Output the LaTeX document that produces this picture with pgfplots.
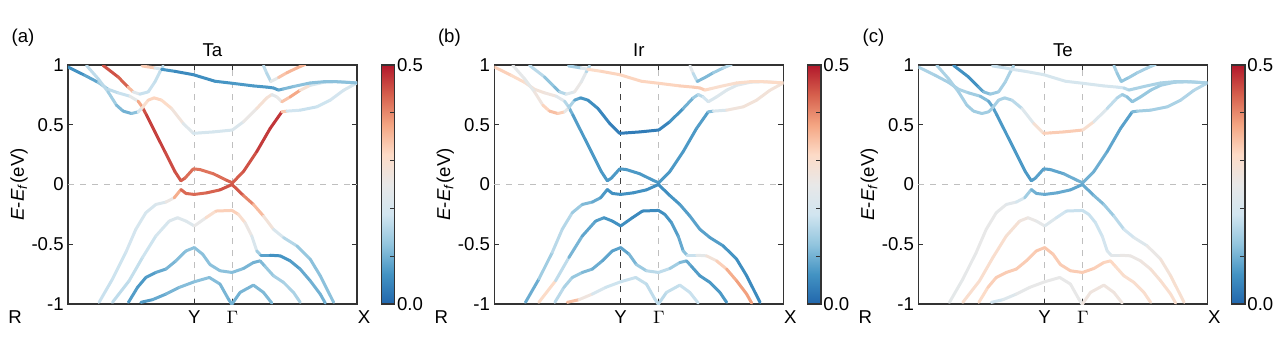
\documentclass[border=0pt]{standalone}
\usepackage{fontspec}
\setmainfont{Liberation Sans}
\usepackage{pgfplots}
\usepackage{pgfplotstable}
\pgfplotsset{compat=1.18}
\newcommand{\tickfont}{\fontsize{9.3pt}{11pt}\selectfont}

% columns: k (path coordinate, R=205 Y=583 Gamma=697 X=1070), E (eV), weights Ta Ir Te
\pgfplotstableread{
k E ta ir te
205 0.983 0.05 0.33 0.15
255 0.914 0.07 0.32 0.15
295 0.855 0.10 0.30 0.14
325 0.797 0.16 0.28 0.15
355 0.767 0.18 0.28 0.15
390 0.739 0.18 0.26 0.13
415 0.697 0.30 0.20 0.10
427 0.650 0.44 0.12 0.08
440 0.581 0.46 0.08 0.07
465 0.442 0.47 0.07 0.07
495 0.275 0.46 0.07 0.07
525 0.108 0.45 0.07 0.07
543 0.031 0.45 0.07 0.07
555 0.053 0.43 0.07 0.08
580 0.131 0.42 0.07 0.08
600 0.125 0.42 0.07 0.08
640 0.090 0.42 0.07 0.09
680 0.035 0.43 0.07 0.10
697 0.014 0.44 0.07 0.10
730 0.108 0.44 0.07 0.10
770 0.275 0.46 0.07 0.09
810 0.469 0.48 0.07 0.08
845 0.608 0.47 0.08 0.08
860 0.614 0.20 0.15 0.14
900 0.622 0.18 0.27 0.14
950 0.650 0.18 0.28 0.15
990 0.706 0.19 0.28 0.15
1030 0.789 0.20 0.28 0.16
1070 0.850 0.20 0.28 0.16
}\bandA
\pgfplotstableread{
k E ta ir te
260 0.997 0.17 0.25 0.15
295 0.886 0.17 0.24 0.15
325 0.775 0.16 0.24 0.15
350 0.664 0.12 0.30 0.14
370 0.614 0.10 0.34 0.14
395 0.594 0.10 0.35 0.14
415 0.608 0.14 0.30 0.14
427 0.642 0.28 0.20 0.14
445 0.706 0.32 0.10 0.15
463 0.725 0.32 0.07 0.15
485 0.706 0.32 0.06 0.15
515 0.636 0.30 0.05 0.18
550 0.511 0.25 0.04 0.26
580 0.428 0.20 0.03 0.32
600 0.432 0.20 0.03 0.33
640 0.440 0.20 0.03 0.33
697 0.456 0.20 0.03 0.33
730 0.525 0.23 0.05 0.26
770 0.636 0.28 0.08 0.18
800 0.725 0.30 0.12 0.16
815 0.753 0.27 0.15 0.15
830 0.733 0.20 0.18 0.12
845 0.692 0.30 0.20 0.12
870 0.733 0.38 0.22 0.13
900 0.789 0.36 0.22 0.13
930 0.830 0.22 0.22 0.14
970 0.855 0.18 0.24 0.15
1020 0.860 0.18 0.26 0.15
1070 0.850 0.18 0.28 0.16
}\bandB
\pgfplotstableread{
k E ta ir te
310 0.997 0.45 0.18 0.06
355 0.900 0.45 0.15 0.06
385 0.815 0.42 0.10 0.06
400 0.775 0.28 0.12 0.10
420 0.756 0.18 0.20 0.13
445 0.775 0.18 0.24 0.14
465 0.858 0.18 0.27 0.15
480 0.942 0.17 0.20 0.15
490 0.992 0.17 0.12 0.15
}\bandC
\pgfplotstableread{
k E ta ir te
427 0.992 0.33 0.15 0.18
465 0.975 0.33 0.14 0.18
485 0.964 0.08 0.30 0.19
525 0.947 0.05 0.32 0.20
580 0.919 0.05 0.32 0.20
645 0.864 0.06 0.32 0.20
697 0.847 0.07 0.32 0.20
760 0.825 0.07 0.32 0.20
800 0.815 0.07 0.33 0.20
820 0.808 0.07 0.33 0.18
835 0.790 0.08 0.33 0.15
850 0.800 0.10 0.30 0.15
880 0.820 0.12 0.30 0.15
930 0.850 0.12 0.30 0.15
970 0.860 0.12 0.31 0.15
1010 0.860 0.12 0.31 0.15
1070 0.850 0.12 0.31 0.15
}\bandD
\pgfplotstableread{
k E ta ir te
790 0.995 0.17 0.25 0.15
800 0.930 0.17 0.22 0.14
812 0.862 0.15 0.12 0.12
835 0.895 0.33 0.10 0.13
860 0.935 0.35 0.12 0.14
890 0.975 0.36 0.15 0.15
915 1.005 0.36 0.17 0.15
}\bandE
\pgfplotstableread{
k E ta ir te
298 -0.986 0.18 0.07 0.24
338 -0.792 0.18 0.12 0.24
378 -0.569 0.19 0.16 0.25
408 -0.375 0.20 0.17 0.25
438 -0.236 0.20 0.15 0.25
468 -0.167 0.21 0.12 0.24
498 -0.147 0.22 0.10 0.22
523 -0.111 0.30 0.08 0.18
543 -0.042 0.43 0.06 0.10
558 -0.075 0.43 0.06 0.10
583 -0.083 0.43 0.06 0.09
620 -0.070 0.43 0.06 0.09
660 -0.045 0.44 0.06 0.09
696 0.000 0.46 0.05 0.08
730 -0.092 0.43 0.06 0.10
760 -0.167 0.38 0.07 0.12
790 -0.264 0.32 0.08 0.15
820 -0.375 0.24 0.08 0.18
850 -0.444 0.18 0.08 0.20
890 -0.514 0.14 0.07 0.24
930 -0.625 0.12 0.06 0.27
960 -0.764 0.12 0.05 0.29
1000 -0.986 0.12 0.05 0.30
}\bandF
\pgfplotstableread{
k E ta ir te
338 -0.986 0.17 0.40 0.30
388 -0.806 0.17 0.22 0.30
428 -0.611 0.18 0.12 0.30
468 -0.431 0.19 0.09 0.30
508 -0.306 0.21 0.08 0.28
533 -0.278 0.22 0.07 0.26
558 -0.306 0.22 0.06 0.25
583 -0.347 0.22 0.06 0.24
618 -0.278 0.28 0.05 0.20
648 -0.222 0.32 0.05 0.18
696 -0.217 0.33 0.05 0.18
715 -0.250 0.32 0.06 0.18
735 -0.319 0.28 0.07 0.18
755 -0.431 0.24 0.08 0.19
770 -0.556 0.18 0.10 0.20
782 -0.592 0.10 0.14 0.22
810 -0.592 0.06 0.22 0.25
840 -0.597 0.06 0.26 0.26
870 -0.639 0.07 0.30 0.26
900 -0.708 0.08 0.35 0.28
930 -0.806 0.10 0.38 0.30
960 -0.917 0.10 0.38 0.30
975 -0.992 0.10 0.38 0.30
}\bandG
\pgfplotstableread{
k E ta ir te
386 -0.986 0.08 0.17 0.30
413 -0.861 0.07 0.16 0.32
438 -0.778 0.07 0.14 0.33
468 -0.736 0.08 0.12 0.33
498 -0.708 0.10 0.10 0.33
528 -0.639 0.11 0.09 0.33
558 -0.556 0.12 0.08 0.33
583 -0.528 0.12 0.08 0.34
608 -0.583 0.12 0.09 0.33
630 -0.670 0.12 0.12 0.33
660 -0.722 0.12 0.15 0.33
696 -0.736 0.12 0.18 0.33
730 -0.703 0.11 0.16 0.33
760 -0.653 0.10 0.12 0.32
780 -0.639 0.10 0.10 0.32
795 -0.686 0.12 0.08 0.31
820 -0.764 0.14 0.07 0.30
850 -0.819 0.15 0.07 0.30
880 -0.903 0.15 0.07 0.30
900 -0.986 0.15 0.07 0.30
}\bandH
\pgfplotstableread{
k E ta ir te
423 -0.986 0.07 0.37 0.18
458 -0.964 0.08 0.32 0.20
498 -0.917 0.10 0.22 0.24
538 -0.861 0.11 0.19 0.25
583 -0.814 0.12 0.18 0.25
628 -0.778 0.12 0.18 0.25
660 -0.833 0.11 0.17 0.25
685 -0.958 0.10 0.17 0.25
695 -1.000 0.10 0.17 0.25
}\bandI
\pgfplotstableread{
k E ta ir te
696 -1.000 0.10 0.16 0.27
720 -0.903 0.10 0.17 0.27
760 -0.842 0.11 0.18 0.27
790 -0.903 0.11 0.18 0.27
815 -0.992 0.11 0.18 0.27
}\bandJ

\pgfplotsset{
  colormap={bandmap}{rgb255=(33,102,172) rgb255=(67,147,195) rgb255=(146,197,222) rgb255=(209,229,240) rgb255=(232,232,232) rgb255=(253,219,199) rgb255=(244,165,130) rgb255=(214,96,77) rgb255=(178,24,43)},
  band/.style={mesh, point meta=explicit, line width=1.5pt, line cap=round, line join=round, forget plot},
  bandaxis/.style={
    scale only axis, width=144.5pt, height=119.5pt, anchor=south west,
    xmin=205, xmax=1070, ymin=-1, ymax=1,
    ytick={-1,-0.5,0,0.5,1}, yticklabels={-1,-0.5,0,0.5,1},
    tick align=inside, major tick length=2.5pt,
    xmajorgrids, grid style={dashed, black!25, line width=0.4pt},
    extra y ticks={0}, extra y tick labels={},
    extra y tick style={grid=major, major tick length=0pt},
    axis line style={line width=0.8pt, black!80},
    every tick/.style={black!80, line width=0.5pt},
    tick label style={font=\tickfont},
    yticklabel style={inner sep=2pt},
    /pgf/number format/assume math mode=true,
    colormap name=bandmap, point meta min=0, point meta max=0.5,
    colorbar,
    colorbar style={
      at={(parent axis.north east)}, anchor=north west, xshift=3.6pt,
      width=6.7pt, height=119.5pt,
      ytick={0,0.5}, yticklabels={0.0,0.5}, minor ytick={0.1,0.2,0.3,0.4},
      ytick pos=right, yticklabel pos=right, tick align=inside,
      major tick length=0pt, minor tick length=2.5pt,
      yticklabel style={font=\tickfont, inner sep=1pt},
      axis line style={line width=0.6pt, black!80},
    },
  },
}
\newcommand{\allbands}[1]{%
  \addplot[band] table[x=k,y=E,meta=#1]{\bandA};
  \addplot[band] table[x=k,y=E,meta=#1]{\bandB};
  \addplot[band] table[x=k,y=E,meta=#1]{\bandC};
  \addplot[band] table[x=k,y=E,meta=#1]{\bandD};
  \addplot[band] table[x=k,y=E,meta=#1]{\bandE};
  \addplot[band] table[x=k,y=E,meta=#1]{\bandF};
  \addplot[band] table[x=k,y=E,meta=#1]{\bandG};
  \addplot[band] table[x=k,y=E,meta=#1]{\bandH};
  \addplot[band] table[x=k,y=E,meta=#1]{\bandI};
  \addplot[band] table[x=k,y=E,meta=#1]{\bandJ};
}

\begin{document}
\begin{tikzpicture}
\useasboundingbox (0,0) rectangle (637.5pt,177pt);
% panel (a)
\begin{axis}[bandaxis, at={(34pt,25pt)},
  xtick={205,583,697,1070}, xticklabels={,Y,$\Gamma$,}]
  \allbands{ta}
\end{axis}
% panel (b)
\begin{axis}[bandaxis, at={(247.2pt,25pt)},
  xtick={205,697,1070}, xticklabels={,$\Gamma$,},
  extra x ticks={583}, extra x tick labels={Y},
  extra x tick style={grid=major, grid style={dashed, black!75, line width=0.5pt}}]
  \allbands{ir}
\end{axis}
% panel (c)
\begin{axis}[bandaxis, at={(459.2pt,25pt)},
  xtick={205,583,697,1070}, xticklabels={,Y,$\Gamma$,}]
  \allbands{te}
\end{axis}
\foreach \dx/\lab/\ttl in {0pt/(a)/Ta, 213.2pt/(b)/Ir, 425.2pt/(c)/Te}{
  \node[font=\tickfont] at ([xshift=\dx]11.5pt,158pt) {\lab};
  \node[font=\tickfont] at ([xshift=\dx]106.25pt,152pt) {\ttl};
  \node[font=\tickfont, rotate=90] at ([xshift=\dx]9.5pt,84.75pt) {\textit{E}-\textit{E}\textsubscript{\textit{f}}(eV)};
  \node[font=\tickfont, anchor=north] at ([xshift=\dx]7.5pt,25pt) {R};
  \node[font=\tickfont, anchor=north] at ([xshift=\dx]182pt,25pt) {X};
}
\end{tikzpicture}
\end{document}
